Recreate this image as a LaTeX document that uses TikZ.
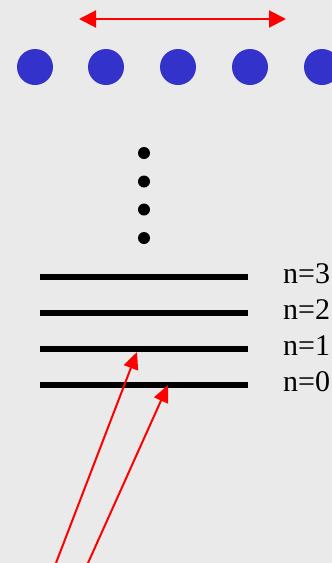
\documentclass[tikz,border=0pt]{standalone}
\usepackage{fontspec}
\setmainfont{Liberation Serif}
\usetikzlibrary{arrows.meta}
\definecolor{bg}{HTML}{EAEAEA}
\definecolor{dotblue}{HTML}{3333CC}
\begin{document}
\begin{tikzpicture}[x=1pt,y=-1pt,
  bluedot/.style={circle,fill=dotblue,inner sep=0pt,minimum size=36pt},
  blackdot/.style={circle,fill=black,inner sep=0pt,minimum size=12pt},
  levelline/.style={line width=6pt,black},
  redarrow/.style={red,line width=2pt,-{Triangle[length=17pt,width=15pt]}},
  redboth/.style={red,line width=2pt,{Triangle[length=17pt,width=17pt]}-{Triangle[length=17pt,width=17pt]}},
  lab/.style={anchor=base west,inner sep=0pt,font=\fontsize{30}{30}\selectfont}]
\fill[bg] (0,0) rectangle (332,563);
\useasboundingbox (0,0) rectangle (332,563);
% top arrow
\coordinate (ta) at (79,19);
\coordinate (tb) at (286,19);
\draw[redboth] (ta) -- (tb);
% blue dots
\foreach \i/\x in {1/35,2/106,3/178,4/250,5/322}
  \node[bluedot] (b\i) at (\x,67) {};
% black dots
\foreach \i/\y in {1/153,2/181.5,3/209.5,4/238}
  \node[blackdot] (k\i) at (144,\y) {};
% levels
\foreach \n/\y in {3/277,2/313,1/349,0/385}{
  \coordinate (l\n a) at (40,\y);
  \coordinate (l\n b) at (248,\y);
  \draw[levelline] (l\n a) -- (l\n b);
  \node[lab] (t\n) at (283,\y+6) {n=\n};
}
% excitation arrows
\coordinate (s1) at (56,563);
\coordinate (e1) at (137,352);
\coordinate (s2) at (88,563);
\coordinate (e2) at (168,385);
\draw[redarrow] (s1) -- (e1);
\draw[redarrow] (s2) -- (e2);
\end{tikzpicture}
\end{document}
